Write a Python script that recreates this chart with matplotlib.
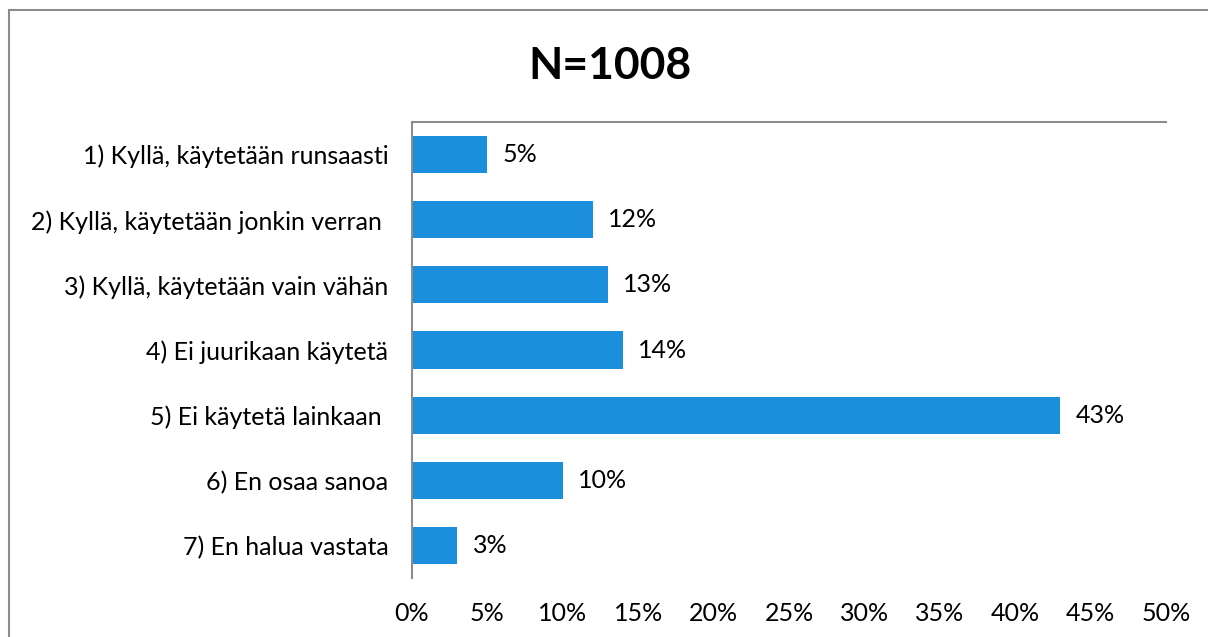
import matplotlib
matplotlib.use("Agg")
import matplotlib.pyplot as plt
from matplotlib.patches import Rectangle

categories = [
    "1) Kyllä, käytetään runsaasti",
    "2) Kyllä, käytetään jonkin verran ",
    "3) Kyllä, käytetään vain vähän",
    "4) Ei juurikaan käytetä",
    "5) Ei käytetä lainkaan ",
    "6) En osaa sanoa",
    "7) En halua vastata",
]
values = [5, 12, 13, 14, 43, 10, 3]
xticks = [0, 5, 10, 15, 20, 25, 30, 35, 40, 45, 50]
title = "N=1008"

plt.rcParams['font.family'] = ['Lato', 'DejaVu Sans']

W, H = 1208, 637
fig = plt.figure(figsize=(W / 100, H / 100), dpi=100)
ax = fig.add_axes([412 / W, 1 - 578 / H, (1166 - 412) / W, (578 - 122) / H])

ypos = list(range(len(categories)))
ax.barh(ypos, values, height=0.57, color="#1B8FDB")
ax.set_ylim(len(categories) - 0.5, -0.5)
ax.set_xlim(0, 50)
ax.set_yticks(ypos)
ax.set_yticklabels(categories, fontsize=18)
ax.set_xticks(xticks)
ax.set_xticklabels([f"{t}%" for t in xticks], fontsize=18)
ax.tick_params(length=0)
ax.tick_params(axis='y', pad=17)
ax.tick_params(axis='x', pad=17)
for s in ['right', 'bottom']:
    ax.spines[s].set_visible(False)
for s in ['left', 'top']:
    ax.spines[s].set_color('#8c8c8c')
    ax.spines[s].set_linewidth(1.5)

for y, v in zip(ypos, values):
    ax.annotate(f"{v}%", (v, y), xytext=(11, 0), textcoords='offset points',
                va='center', ha='left', fontsize=18)

fig.text(610 / W, 1 - 66 / H, title, ha='center', va='center',
         fontsize=32, fontweight='bold')

fig.patches.append(Rectangle((9 / W, -0.1), 1.2, 1 - 10 / H + 0.1, transform=fig.transFigure,
                             fill=False, edgecolor='#8c8c8c', linewidth=1.5))

fig.savefig("out.png", dpi=100)
